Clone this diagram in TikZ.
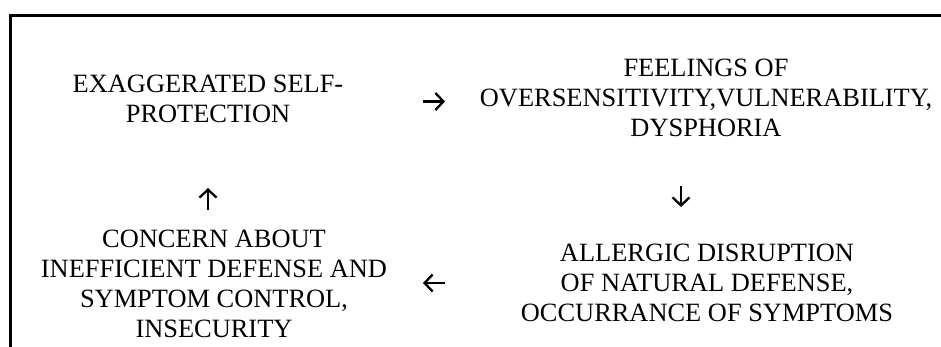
\documentclass[tikz,border=0pt]{standalone}
\usepackage{fontspec}
\setmainfont{Liberation Serif}
\usetikzlibrary{arrows.meta}
\tikzset{
  blocktext/.style={inner sep=0pt, anchor=base, font=\fontsize{26.4}{30}\selectfont},
  cyclearrow/.style={line width=2.3pt, -{Straight Barb[length=8pt,width=17pt,line width=2.3pt]}},
  frameline/.style={line width=3pt}
}
\begin{document}
\begin{tikzpicture}[x=1pt,y=1pt]
\useasboundingbox (0,0) rectangle (941,347);
% frame
\coordinate (fr) at (941,331);
\coordinate (fc) at (10,331);
\coordinate (fb) at (10,0);
\draw[frameline] (fr) -- (fc) -- (fb);
% texts
\node[blocktext] (tl) at (208,254) {\begin{tabular}[t]{@{}c@{}}EXAGGERATED SELF-\\PROTECTION\end{tabular}};
\node[blocktext] (tr) at (706,270) {\begin{tabular}[t]{@{}c@{}}FEELINGS OF\\OVERSENSITIVITY,VULNERABILITY,\\DYSPHORIA\end{tabular}};
\node[blocktext] (bl) at (214,99) {\begin{tabular}[t]{@{}c@{}}CONCERN ABOUT\\INEFFICIENT DEFENSE AND\\SYMPTOM CONTROL,\\INSECURITY\end{tabular}};
\node[blocktext] (br) at (707,85) {\begin{tabular}[t]{@{}c@{}}ALLERGIC DISRUPTION\\OF NATURAL DEFENSE,\\OCCURRANCE OF SYMPTOMS\end{tabular}};
% arrows
\coordinate (a1s) at (423,245.5);
\coordinate (a1e) at (445,245.5);
\coordinate (a2s) at (681,161);
\coordinate (a2e) at (681,140);
\coordinate (a3s) at (445,64);
\coordinate (a3e) at (423,64);
\coordinate (a4s) at (208,137);
\coordinate (a4e) at (208,159);
\draw[cyclearrow] (a1s) -- (a1e);
\draw[cyclearrow] (a2s) -- (a2e);
\draw[cyclearrow] (a3s) -- (a3e);
\draw[cyclearrow] (a4s) -- (a4e);
\end{tikzpicture}
\end{document}
